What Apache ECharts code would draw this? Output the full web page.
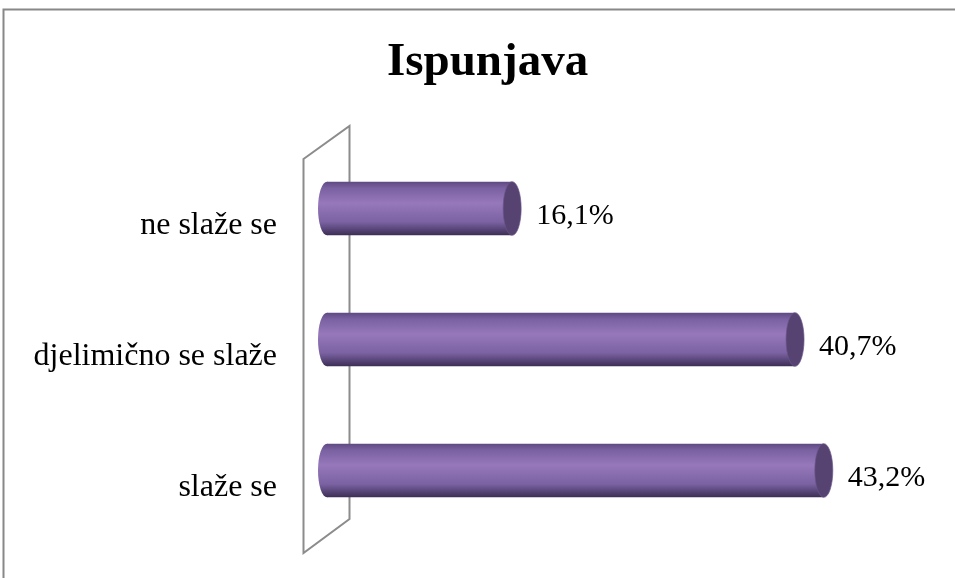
<!DOCTYPE html>
<html>
<head>
<meta charset="utf-8">
<style>
  html, body { margin: 0; padding: 0; background: #fff; }
  #chart { width: 955px; height: 578px; }
</style>
<script src="https://cdn.jsdelivr.net/npm/echarts@6/dist/echarts.min.js"></script>
</head>
<body>
<div id="chart"></div>
<script>
const categories = ['ne slaže se', 'djelimično se slaže', 'slaže se']
const values = [16.1, 40.7, 43.2]

const chart = echarts.init(document.getElementById('chart'))

const bodyGradient = new echarts.graphic.LinearGradient(0, 0, 0, 1, [
  { offset: 0, color: '#5e4982' },
  { offset: 0.12, color: '#7a61a1' },
  { offset: 0.4, color: '#9678bb' },
  { offset: 0.75, color: '#7b62a2' },
  { offset: 1, color: '#3c2e55' }
])

// cylinder bar: left rounded end + body + right cap
const renderCylinder = (params, api) => {
  const cat = api.value(1)
  const val = api.value(0)
  const p0 = api.coord([0, cat])
  const p1 = api.coord([val, cat])
  const h = api.size([0, 1])[1] * 0.41
  const r = h / 2
  const rx = 9
  return {
    type: 'group',
    children: [
      {
        type: 'circle',
        x: p0[0], y: p0[1], scaleX: rx / r,
        shape: { cx: 0, cy: 0, r: r },
        style: { fill: bodyGradient }
      },
      {
        type: 'rect',
        shape: { x: p0[0], y: p0[1] - r, width: p1[0] - p0[0], height: h },
        style: { fill: bodyGradient }
      },
      {
        type: 'circle',
        x: p1[0], y: p1[1], scaleX: rx / r,
        shape: { cx: 0, cy: 0, r: r },
        style: { fill: '#574372', stroke: '#6a5489', lineWidth: 1 }
      }
    ]
  }
}

chart.setOption({
  animation: false,
  title: {
    text: 'Ispunjava',
    left: 382,
    top: 34,
    textStyle: {
      fontFamily: 'Liberation Serif',
      fontSize: 47,
      fontWeight: 'bold',
      color: '#000'
    }
  },
  grid: { left: 327, right: 53, top: 143, bottom: 42, containLabel: false },
  xAxis: {
    type: 'value',
    min: 0,
    max: 50,
    show: false
  },
  yAxis: {
    type: 'category',
    data: categories,
    inverse: true,
    axisLine: { show: false },
    axisTick: { show: false },
    splitLine: { show: false },
    axisLabel: {
      margin: 50,
      color: '#000',
      fontFamily: 'Liberation Serif',
      fontSize: 32,
      lineHeight: 34,
      verticalAlign: 'top'
    }
  },
  graphic: [
    {
      type: 'rect',
      shape: { x: 3.5, y: 9.5, width: 1000, height: 1000 },
      style: { fill: 'none', stroke: '#888', lineWidth: 2 },
      z: -10
    },
    {
      type: 'polygon',
      shape: { points: [[303.5, 159], [349.5, 126], [349.5, 519], [303.5, 553]] },
      style: { fill: 'none', stroke: '#8c8c8c', lineWidth: 2 },
      z: -5
    }
  ],
  series: [
    {
      type: 'custom',
      renderItem: renderCylinder,
      data: values.map((v, i) => [v, i]),
      encode: { x: 0, y: 1 },
      z: 10
    },
    {
      // value labels placed at the bar ends
      type: 'scatter',
      data: values.map((v, i) => [v, i]),
      symbolSize: 0,
      silent: true,
      itemStyle: { opacity: 1 },
      label: {
        show: true,
        position: 'right',
        distance: 24,
        offset: [0, 8],
        formatter: (p) => p.value[0].toFixed(1).replace('.', ',') + '%',
        color: '#000',
        opacity: 1,
        fontFamily: 'Liberation Serif',
        fontSize: 30
      }
    }
  ]
})
</script>
</body>
</html>
